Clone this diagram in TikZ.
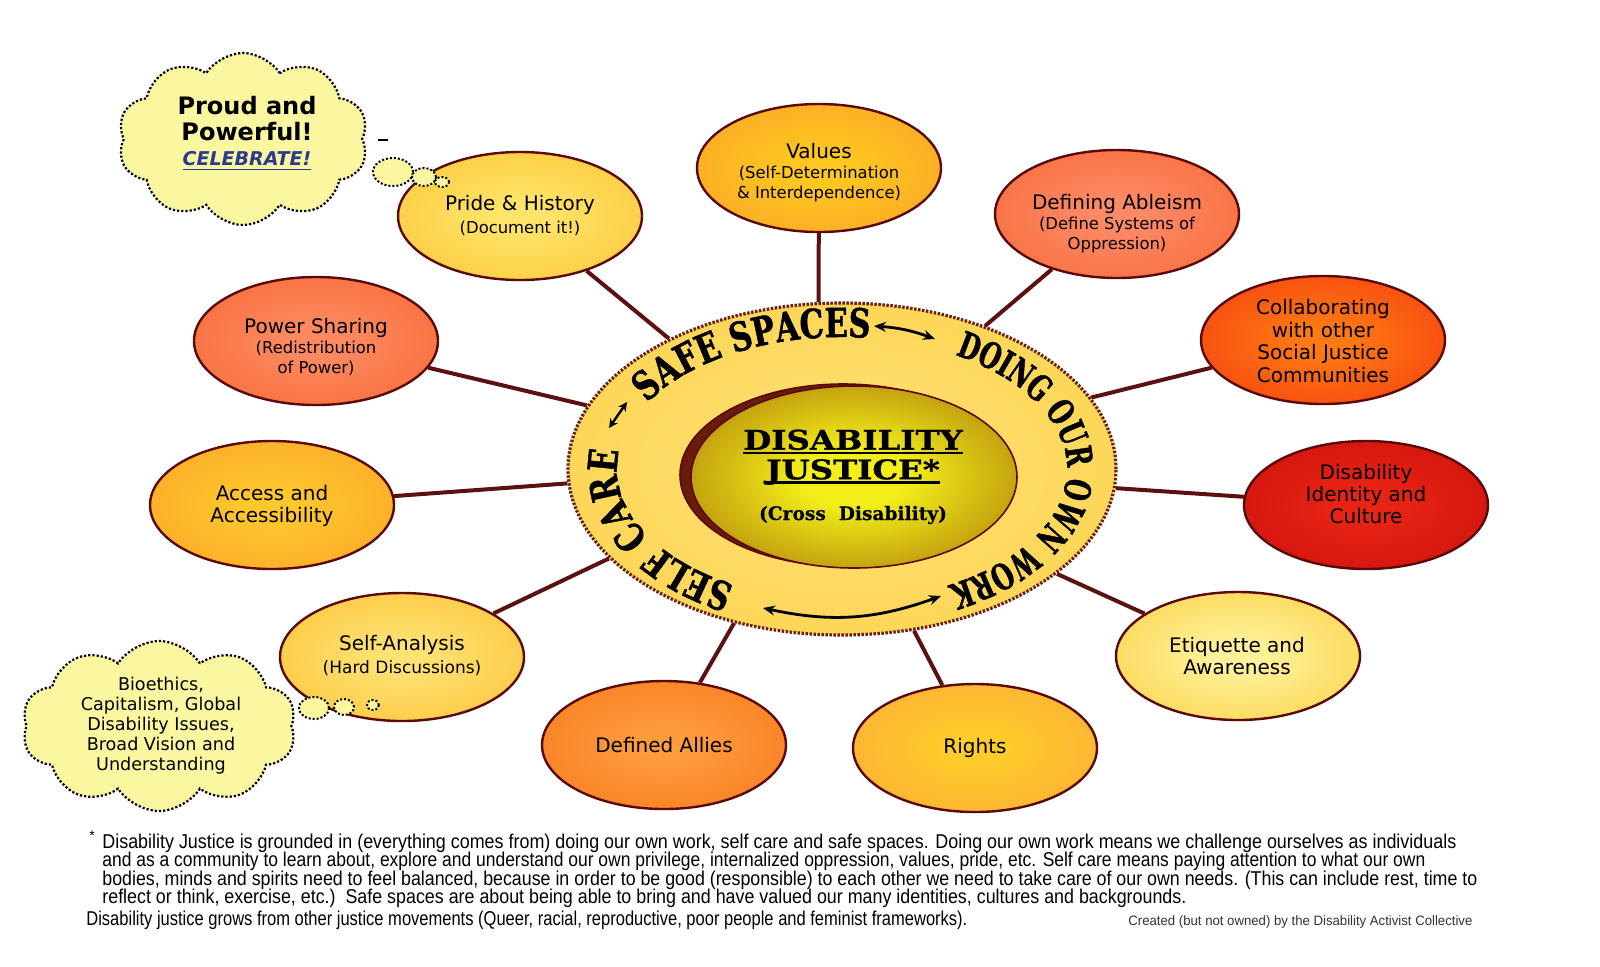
\documentclass[tikz,border=0pt]{standalone}
\usepackage{fontspec}
\usepackage{graphicx}
\setmainfont{DejaVu Sans}
\newfontfamily\nodefont{DejaVu Sans}
\newfontfamily\ringA[FakeStretch=0.76,FakeBold=1.2]{DejaVu Serif}
\newfontfamily\ringB[FakeStretch=0.68,FakeBold=1.2]{DejaVu Serif}
\newfontfamily\centfont[FakeStretch=1.2,FakeBold=1]{DejaVu Serif}
\newfontfamily\crossfont[FakeBold=0.6]{DejaVu Serif}
\newfontfamily\footfont{Liberation Sans}
\usetikzlibrary{shapes.geometric,shapes.symbols,decorations.text,arrows.meta}
\pgfdeclarelayer{back}
\pgfsetlayers{back,main}

\definecolor{edgec}{HTML}{5A0A0A}
\definecolor{connc}{HTML}{5C1010}
\definecolor{ringedge}{HTML}{6B1E12}
\definecolor{cloudc}{HTML}{FBF6A0}
\definecolor{celebc}{HTML}{2B3A8F}

\definecolor{vIn}{HTML}{FFC820}\definecolor{vOut}{HTML}{F7922A}
\definecolor{aIn}{HTML}{FF8A66}\definecolor{aOut}{HTML}{F05A22}
\definecolor{cIn}{HTML}{FF7A12}\definecolor{cOut}{HTML}{EE2010}
\definecolor{iIn}{HTML}{E82414}\definecolor{iOut}{HTML}{C00808}
\definecolor{eIn}{HTML}{FFF29A}\definecolor{eOut}{HTML}{F8C020}
\definecolor{rIn}{HTML}{FFCC2A}\definecolor{rOut}{HTML}{F89C3E}
\definecolor{lIn}{HTML}{FF9C3C}\definecolor{lOut}{HTML}{F26A10}
\definecolor{sIn}{HTML}{FFE272}\definecolor{sOut}{HTML}{F9B41E}
\definecolor{xIn}{HTML}{FFC82C}\definecolor{xOut}{HTML}{F7942A}
\definecolor{pIn}{HTML}{FF8A62}\definecolor{pOut}{HTML}{EF5A20}
\definecolor{hIn}{HTML}{FFE46A}\definecolor{hOut}{HTML}{F9B81E}
\definecolor{ringA1}{HTML}{FFE27A}\definecolor{ringA2}{HTML}{FCD24A}\definecolor{ringA3}{HTML}{F6BE24}
\definecolor{coreA}{HTML}{F2EE1A}\definecolor{coreB}{HTML}{C8A810}
\definecolor{coreC}{HTML}{8A4A0A}\definecolor{coreD}{HTML}{5A1608}
\definecolor{shadowc}{HTML}{6A1C0C}

\newcommand\mkshade[3]{\pgfdeclareradialshading{#1}{\pgfpoint{0bp}{0bp}}{color(0bp)=(#2); color(5bp)=(#2); color(50bp)=(#3)}}
\mkshade{shValues}{vIn}{vOut}
\mkshade{shAbleism}{aIn}{aOut}
\mkshade{shCollab}{cIn}{cOut}
\mkshade{shIdentity}{iIn}{iOut}
\mkshade{shEtiq}{eIn}{eOut}
\mkshade{shRights}{rIn}{rOut}
\mkshade{shAllies}{lIn}{lOut}
\mkshade{shSelf}{sIn}{sOut}
\mkshade{shAccess}{xIn}{xOut}
\mkshade{shPower}{pIn}{pOut}
\mkshade{shPride}{hIn}{hOut}
\pgfdeclareradialshading{shRing}{\pgfpoint{0bp}{0bp}}{color(0bp)=(ringA1); color(35bp)=(ringA2); color(50bp)=(ringA3)}
\pgfdeclareradialshading{shCore}{\pgfpoint{0bp}{0bp}}{color(0bp)=(coreA); color(8bp)=(coreA); color(24bp)=(coreB); color(38bp)=(coreC); color(50bp)=(coreD)}

\newcommand\subtxt{\fontsize{8.2}{10}\selectfont}
\newcommand\thul[1]{\setbox0=\hbox{#1}\rlap{\rule[-2.4pt]{\wd0}{1.4pt}}\box0}

\begin{document}
\begin{tikzpicture}[x=0.5pt,y=-0.5pt,
  bub/.style={ellipse, draw=edgec, line width=1.2pt, minimum width=122pt, minimum height=64pt, inner sep=0pt, shade},
  conn/.style={draw=connc, line width=2pt},
  ttl/.style={align=center, text=black, inner sep=0pt, font=\nodefont\fontsize{10}{11.2}\selectfont},
  mix/.style={align=center, text=black, inner sep=0pt, font=\nodefont\fontsize{10}{10}\selectfont},
  thought/.style={ellipse, draw=black, densely dotted, line width=1pt, fill=cloudc, inner sep=0pt},
  puff/.style={cloud, cloud puffs=10, cloud puff arc=115, cloud ignores aspect, draw=black, densely dotted, line width=1.1pt, fill=cloudc, inner sep=0pt},
  ringarrow/.style={{Stealth[length=6pt,width=5pt]}-{Stealth[length=6pt,width=5pt]}, line width=1.4pt, black},
  foot/.style={anchor=base west, inner sep=0pt, font=\footfont\fontsize{10}{10}\selectfont},
]
\useasboundingbox (0,0) rectangle (1600,966);

% outer nodes
\node[bub, shading=shValues] (values) at (819,168) {};
\node[bub, shading=shAbleism] (ableism) at (1117,214) {};
\node[bub, shading=shCollab] (collab) at (1323,340) {};
\node[bub, shading=shIdentity] (identity) at (1366,505) {};
\node[bub, shading=shEtiq] (etiquette) at (1238,656) {};
\node[bub, shading=shRights] (rights) at (975,748) {};
\node[bub, shading=shAllies] (allies) at (664,745) {};
\node[bub, shading=shSelf] (selfan) at (402,657) {};
\node[bub, shading=shAccess] (access) at (272,505) {};
\node[bub, shading=shPower] (power) at (316,341) {};
\node[bub, shading=shPride] (pride) at (520,216) {};

% central ring
\node[ellipse, minimum width=274pt, minimum height=166pt, inner sep=0pt, shade, shading=shRing,
      draw=ringedge, line width=1.6pt, dash pattern=on 1.2pt off 0.8pt] (ring) at (842,469) {};
\node[ellipse, minimum width=163pt, minimum height=91pt, inner sep=0pt, fill=shadowc, draw=edgec, line width=0.8pt] (coreshadow) at (843,475) {};
\node[ellipse, minimum width=163pt, minimum height=91pt, inner sep=0pt, shade, shading=shCore, draw=edgec, line width=0.8pt] (core) at (854,477) {};

% connectors
\begin{pgfonlayer}{back}
\fill[white] (0,0) rectangle (1600,966);
\draw[conn] (ring.98) -- (values);
\draw[conn] (ring.45) -- (ableism);
\draw[conn] (ring.16) -- (collab);
\draw[conn] (ring.356) -- (identity);
\draw[conn] (ring.334) -- (etiquette);
\draw[conn] (ring.294) -- (rights);
\draw[conn] (ring.235) -- (allies);
\draw[conn] (ring.201) -- (selfan);
\draw[conn] (ring.183) -- (access);
\draw[conn] (ring.166) -- (power);
\draw[conn] (ring.143) -- (pride);
\end{pgfonlayer}

% node texts
\node[mix] (tvalues) at (819,173) {Values\\{\subtxt(Self-Determination}\\{\subtxt\& Interdependence)}};
\node[mix] (tableism) at (1117,224) {Defining Ableism\\{\subtxt(Define Systems of}\\{\subtxt Oppression)}};
\node[ttl] (tcollab) at (1323,341) {Collaborating\\with other\\Social Justice\\Communities};
\node[ttl] (tidentity) at (1366,494) {Disability\\Identity and\\Culture};
\node[ttl] (tetiq) at (1237,656) {Etiquette and\\Awareness};
\node[ttl] (trights) at (975,748) {Rights};
\node[ttl] (tallies) at (664,745) {Defined Allies};
\node[mix, font=\nodefont\fontsize{10}{11.5}\selectfont] (tself) at (402,656) {Self-Analysis\\{\fontsize{8.5}{10}\selectfont(Hard Discussions)}};
\node[ttl] (taccess) at (272,506) {Access and\\Accessibility};
\node[mix] (tpower) at (316,347) {Power Sharing\\{\subtxt(Redistribution}\\{\subtxt of Power)}};
\node[mix, font=\nodefont\fontsize{10}{11.5}\selectfont] (tpride) at (520,215) {Pride \& History\\{\subtxt(Document it!)}};

% ring texts
\path[decorate, decoration={text along path, text align=center,
   text={|\ringA\bfseries\fontsize{20}{20}\selectfont|SELF CARE}}]
   (842,469) ++(252:112.5pt and 66pt) arc[start angle=252, end angle=156, x radius=112.5pt, y radius=66pt];
\path[decorate, decoration={text along path, text align=center,
   text={|\ringA\bfseries\fontsize{20}{20}\selectfont|SAFE SPACES}}]
   (842,469) ++(160:112.5pt and 66pt) arc[start angle=160, end angle=76, x radius=112.5pt, y radius=66pt];
\path[decorate, decoration={text along path, text align=center,
   text={|\ringB\bfseries\fontsize{18}{18}\selectfont|DOING OUR OWN WORK}}]
   (842,469) ++(72:112.5pt and 66pt) arc[start angle=72, end angle=-74, x radius=112.5pt, y radius=66pt];

% ring arrows
\coordinate (la1) at (609,428); \coordinate (la2) at (627,402);
\draw[ringarrow, {Stealth[length=4.5pt,width=4.5pt]}-{Stealth[length=4.5pt,width=4.5pt]}, line width=1.2pt] (la1) -- (la2);
\coordinate (ta1) at (874,326); \coordinate (ta2) at (935,339);
\draw[ringarrow] (ta1) to[bend left=8] (ta2);
\coordinate (ba1) at (763,608); \coordinate (ba2) at (941,596);
\draw[ringarrow] (ba1) to[bend right=16] (ba2);

% centre text
\node[inner sep=0pt, font=\centfont\bfseries\fontsize{13.5}{14}\selectfont] (dis) at (853,442) {\thul{DISABILITY}};
\node[inner sep=0pt, font=\centfont\bfseries\fontsize{13.5}{14}\selectfont] (jus) at (853,472) {\thul{JUSTICE*}};
\node[inner sep=0pt, font=\crossfont\bfseries\fontsize{9.3}{10}\selectfont] (cross) at (853,515) {(Cross\ \ Disability)};

% cloud A
\node[puff, minimum width=125pt, minimum height=86pt] (cloudA) at (243,139) {};
\node[thought, minimum width=20pt, minimum height=14pt] (bA1) at (393,172) {};
\node[thought, minimum width=12pt, minimum height=9pt] (bA2) at (424,177) {};
\node[thought, minimum width=7pt, minimum height=5pt] (bA3) at (442,182) {};
\coordinate (dashL) at (378,140); \coordinate (dashR) at (388,140);
\draw[line width=0.6pt] (dashL) -- (dashR);
\node[align=center, inner sep=0pt, font=\nodefont\bfseries\fontsize{12}{13}\selectfont] (proud) at (247,119) {Proud and\\Powerful!};
\node[inner sep=0pt, text=celebc, font=\nodefont\bfseries\itshape\fontsize{9.5}{10}\selectfont] (celeb) at (247,161) {\underline{CELEBRATE!}};

% cloud B
\node[puff, minimum width=137pt, minimum height=85pt] (cloudB) at (159,726) {};
\node[thought, minimum width=15pt, minimum height=11pt] (bB1) at (314,708) {};
\node[thought, minimum width=10pt, minimum height=8pt] (bB2) at (344,707) {};
\node[thought, minimum width=6pt, minimum height=5pt] (bB3) at (373,705) {};
\node[align=center, inner sep=0pt, font=\nodefont\fontsize{8.8}{10}\selectfont] (bio) at (161,726) {Bioethics,\\Capitalism, Global\\Disability Issues,\\Broad Vision and\\Understanding};

% footnote
\node[anchor=base west, inner sep=0pt, font=\footfont\fontsize{7}{7}\selectfont] (ast) at (89,840) {*};
\node[foot] (f1) at (102,848) {\resizebox{677pt}{\height}{Disability Justice is grounded in (everything comes from) doing our own work, self care and safe spaces. Doing our own work means we challenge ourselves as individuals}};
\node[foot] (f2) at (102,866) {\resizebox{661.5pt}{\height}{and as a community to learn about, explore and understand our own privilege, internalized oppression, values, pride, etc. Self care means paying attention to what our own}};
\node[foot] (f3) at (102,885) {\resizebox{687.5pt}{\height}{bodies, minds and spirits need to feel balanced, because in order to be good (responsible) to each other we need to take care of our own needs. (This can include rest, time to}};
\node[foot] (f4) at (102,903) {\resizebox{542pt}{\height}{reflect or think, exercise, etc.)\ \ Safe spaces are about being able to bring and have valued our many identities, cultures and backgrounds.}};
\node[foot] (f5) at (86,925) {\resizebox{440.5pt}{\height}{Disability justice grows from other justice movements (Queer, racial, reproductive, poor people and feminist frameworks).}};
\node[anchor=base west, inner sep=0pt, text=black!80, font=\footfont\fontsize{6.8}{7}\selectfont] (credit) at (1128,925) {\resizebox{172pt}{\height}{Created (but not owned) by the Disability Activist Collective}};
\end{tikzpicture}
\end{document}
